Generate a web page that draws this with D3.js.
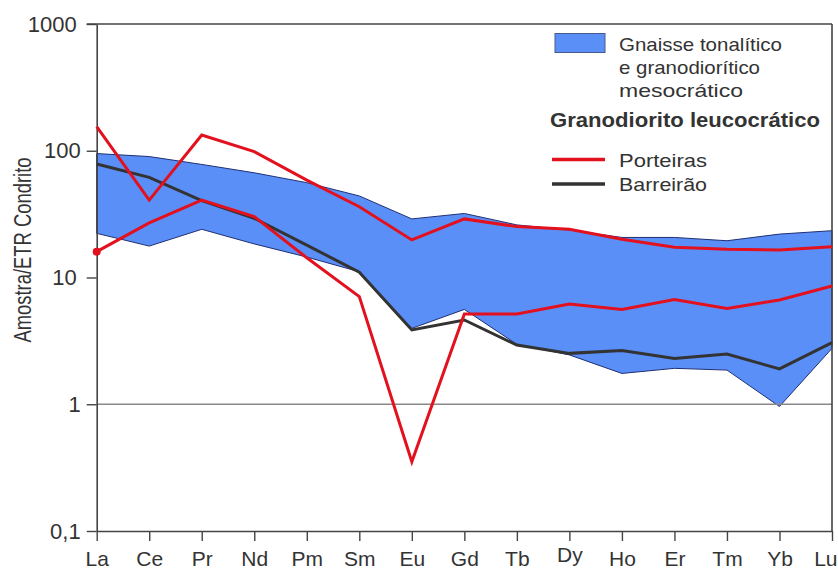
<!DOCTYPE html>
<html>
<head>
<meta charset="utf-8">
<script src="https://cdn.jsdelivr.net/npm/d3@7"></script>
<style>
  html, body { margin: 0; padding: 0; background: #fff; }
  svg { display: block; font-family: "Liberation Sans", Arial, sans-serif; }
</style>
</head>
<body>
<svg id="chart" width="838" height="569"></svg>
<script>
// Rare earth elements (chondrite-normalised spider diagram)
const elements = ["La", "Ce", "Pr", "Nd", "Pm", "Sm", "Eu", "Gd", "Tb", "Dy", "Ho", "Er", "Tm", "Yb", "Lu"];

// Envelope of the tonalitic / granodioritic gneiss samples
const gnaisseMax = [95, 90, 78, 67, 56, 44, 29, 32, 26, 23.7, 20.7, 20.7, 19.5, 22, 23.4];
const gnaisseMin = [22.3, 17.7, 24, 18.4, 14.5, 11.1, 3.97, 5.6, 2.97, 2.45, 1.75, 1.92, 1.86, 0.96, 2.76];

// Leucocratic granodiorite samples
const porteirasA = [155, 40.8, 133, 98.5, 58.7, 36.2, 19.8, 29, 25.2, 24, 20, 17.3, 16.7, 16.5, 17.5];
const porteirasB = [16, 27, 40.8, 30.2, 14.3, 7.06, 0.352, 5.15, 5.15, 6.18, 5.6, 6.7, 5.7, 6.65, 8.57];
const barreirao  = [78.5, 61.7, 40.4, 29.3, 18, 11, 3.86, 4.62, 2.93, 2.52, 2.65, 2.3, 2.49, 1.9, 3.06];

// Y axis
const yTicks = [0.1, 1, 10, 100, 1000];
const yTickLabels = ["0,1", "1", "10", "100", "1000"];
const yTitle = "Amostra/ETR Condrito";

// Legend texts
const legendBand = ["Gnaisse tonalítico", "e granodiorítico", "mesocrático"];
const legendGroup = "Granodiorito leucocrático";
const legendLines = ["Porteiras", "Barreirão"];

const svg = d3.select("#chart");
const plotL = 96.7, plotR = 832, plotT = 24, plotB = 531;

const x = d3.scalePoint().domain(elements).range([plotL, plotR]);
const y = d3.scaleLog().domain([0.1, 1000]).range([plotB, plotT]);

const bandFill = "#5b8ff8";
const bandStroke = "#1f2f73";
const red = "#e3101e";
const dark = "#333333";
const frame = "#444444";
const textCol = "#333333";

// Gneiss envelope
const area = d3.area()
  .x((d, i) => x(elements[i]))
  .y0((d, i) => y(gnaisseMin[i]))
  .y1((d, i) => y(gnaisseMax[i]));
svg.append("path")
  .datum(gnaisseMax)
  .attr("d", area)
  .attr("fill", bandFill)
  .attr("stroke", bandStroke)
  .attr("stroke-width", 1)
  .attr("stroke-linejoin", "round");

// Reference line at 1
svg.append("line")
  .attr("x1", plotL).attr("x2", plotR)
  .attr("y1", y(1)).attr("y2", y(1))
  .attr("stroke", "#888").attr("stroke-width", 1.5);

// Axes
const xAxis = d3.axisBottom(x).tickSize(10).tickSizeOuter(0).tickPadding(13);
const gx = svg.append("g").attr("transform", `translate(0,${plotB})`).call(xAxis);
gx.select(".domain").attr("stroke", frame).attr("stroke-width", 1.6);
gx.selectAll(".tick line").attr("stroke", frame).attr("stroke-width", 1.4);
gx.selectAll(".tick text")
  .attr("fill", textCol)
  .attr("font-size", 21)
  .attr("font-family", "'Liberation Sans', Arial, sans-serif")
  .attr("dy", d => d === "Dy" ? "0.4em" : "0.55em")
  // the last label sits against the right edge of the page
  .attr("text-anchor", d => d === "Lu" ? "end" : "middle")
  .attr("dx", d => d === "Lu" ? 5 : 0);

const yAxis = d3.axisLeft(y).tickValues(yTicks)
  .tickFormat((d, i) => yTickLabels[i])
  .tickSize(10).tickSizeOuter(0).tickPadding(6);
const gy = svg.append("g").attr("transform", `translate(${plotL},0)`).call(yAxis);
gy.select(".domain").attr("stroke", frame).attr("stroke-width", 1.6);
gy.selectAll(".tick line").attr("stroke", frame).attr("stroke-width", 1.4);
gy.selectAll(".tick text")
  .attr("fill", textCol)
  .attr("font-size", 22)
  .attr("font-family", "'Liberation Sans', Arial, sans-serif")
  .attr("dx", d => (d === 1000 || d === 10) ? -4 : 0);

// Top and right frame
svg.append("line").attr("x1", plotL - 10).attr("x2", plotR)
  .attr("y1", plotT).attr("y2", plotT).attr("stroke", frame).attr("stroke-width", 1.6);
svg.append("line").attr("x1", plotR).attr("x2", plotR)
  .attr("y1", plotT).attr("y2", plotB).attr("stroke", frame).attr("stroke-width", 1.6);

// Y title
svg.append("text")
  .attr("transform", `translate(31,250) rotate(-90)`)
  .attr("text-anchor", "middle")
  .attr("font-size", 23)
  .attr("fill", textCol)
  .attr("textLength", 185)
  .attr("lengthAdjust", "spacingAndGlyphs")
  .text(yTitle);

// Sample lines
const line = d3.line().x((d, i) => x(elements[i])).y(d => y(d));
const series = [
  { values: barreirao, color: dark },
  { values: porteirasB, color: red },
  { values: porteirasA, color: red }
];
svg.selectAll(".sample")
  .data(series)
  .join("path")
  .attr("class", "sample")
  .attr("d", d => line(d.values))
  .attr("fill", "none")
  .attr("stroke", d => d.color)
  .attr("stroke-width", 3)
  .attr("stroke-linejoin", "miter");

svg.append("circle")
  .attr("cx", x(elements[0]))
  .attr("cy", y(porteirasB[0]))
  .attr("r", 4)
  .attr("fill", red);

// Legend
const lg = svg.append("g");
lg.append("rect")
  .attr("x", 555).attr("y", 33.5).attr("width", 50).attr("height", 19)
  .attr("fill", bandFill).attr("stroke", "#4a5a8a").attr("stroke-width", 1);
const bandWidths = [163, 141, 124];
legendBand.forEach((t, i) => {
  lg.append("text")
    .attr("x", 619).attr("y", 51 + i * 23)
    .attr("font-size", 19).attr("fill", textCol)
    .attr("textLength", bandWidths[i]).attr("lengthAdjust", "spacingAndGlyphs")
    .text(t);
});
lg.append("text")
  .attr("x", 550).attr("y", 126.5)
  .attr("font-size", 19.5).attr("font-weight", "bold").attr("fill", textCol)
  .attr("textLength", 270).attr("lengthAdjust", "spacingAndGlyphs")
  .text(legendGroup);
const lineColors = [red, dark];
legendLines.forEach((t, i) => {
  const yy = 159.5 + i * 24.5;
  lg.append("line")
    .attr("x1", 552).attr("x2", 605).attr("y1", yy).attr("y2", yy)
    .attr("stroke", lineColors[i]).attr("stroke-width", 3.5);
  lg.append("text")
    .attr("x", 619).attr("y", yy + 7.3)
    .attr("font-size", 19).attr("fill", textCol)
    .attr("textLength", 88).attr("lengthAdjust", "spacingAndGlyphs")
    .text(t);
});
</script>
</body>
</html>
